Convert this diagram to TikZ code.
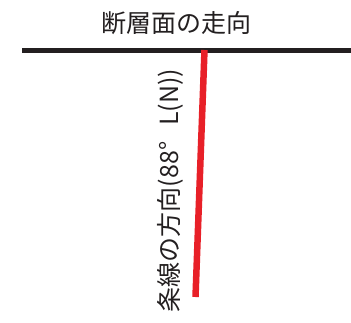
\documentclass[tikz,border=0pt]{standalone}
\usepackage{fontspec}
\newfontfamily\cjk{Noto Sans CJK JP}
\definecolor{ink}{RGB}{35,31,32}
\definecolor{redline}{RGB}{232,32,40}
\newcommand{\fwdeg}{\makebox[1em][l]{°}}
\begin{document}
\begin{tikzpicture}[x=1pt,y=-1pt,
  label text/.style={font=\cjk\fontsize{25}{30}\selectfont, text=ink, inner sep=0pt},
  vert text/.style={font=\cjk\fontsize{25}{30}\selectfont, text=ink, inner sep=0pt, rotate=90}]
\useasboundingbox (0,0) rectangle (351,322);
\coordinate (sL) at (22,50.5);
\coordinate (sR) at (351,50.5);
\coordinate (rT) at (204.5,50);
\coordinate (rB) at (195.5,297);
\draw[ink, line width=5.5pt] (sL) -- (sR);
\draw[redline, line width=6.5pt] (rT) -- (rB);
\node[label text] (title) at (176,23.5) {断層面の走向};
\node[vert text] (striae) at (170,190.5) {条線の方向(88\fwdeg L(N))};
\end{tikzpicture}
\end{document}
